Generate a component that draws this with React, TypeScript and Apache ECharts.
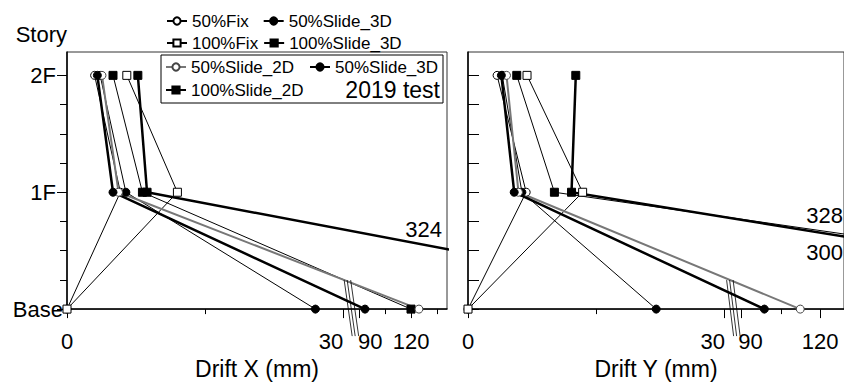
import React, { useEffect, useRef } from 'react';
import * as echarts from 'echarts';

// ---------- data ----------
const stories = ['Base', '1F', '2F'];
const storyLevels = [0, 4, 8];
const storyTicks = [0, 1, 2, 3, 4, 5, 6, 7, 8];

const xTickLabels = [0, 30, 90, 120];
const xMinorTicks = [15, 105, 135];

// Drift X (mm) at [Base, 1F, 2F]
const x50Fix = [0, 5.8, 3.0];
const x50Slide3D = [27, 6.4, 3.6];
const x100Fix = [0, 12.0, 6.5];
const x100Slide3D = [120, 8.2, 5.0];
const x50Slide2D_2019 = [124.6, 5.6, 3.8];
const x50Slide3D_2019 = [93.3, 5.0, 3.3];
const x100Slide2D_2019 = [324, 8.7, 7.7];

// Drift Y (mm) at [Base, 1F, 2F]
const y50Fix = [0, 6.8, 3.4];
const y50Slide3D = [22, 6.3, 4.0];
const y100Fix = [0, 13.4, 6.9];
const y100Slide3D = [328, 10.1, 5.7];
const y50Slide2D_2019 = [112.4, 5.9, 4.5];
const y50Slide3D_2019 = [98.7, 5.4, 3.9];
const y100Slide2D_2019 = [300, 12.1, 12.6];

const offScaleX = [324];
const offScaleY = [328, 300];

// ---------- broken axis scale ----------
const X_BRK = { gap: 1.77, scale: 0.1873, max: 41.3 };
const Y_BRK = { gap: 1.98, scale: 0.306, max: 43.95 };
const fwd = (b: any, v: number) => (v <= 30 ? v : 30 + b.gap + (v - 90) * b.scale);
const inv = (b: any, d: number) => (d <= 30.0001 ? d : 90 + (d - 30 - b.gap) / b.scale);

const FONT = 'Liberation Sans, Arial, sans-serif';

const styles: any = {
  fix50: { symbol: 'circle', fill: '#fff', border: '#000', line: '#000', width: 1 },
  s3d50: { symbol: 'circle', fill: '#000', border: '#000', line: '#000', width: 1 },
  fix100: { symbol: 'rect', fill: '#fff', border: '#000', line: '#000', width: 1 },
  s3d100: { symbol: 'rect', fill: '#000', border: '#000', line: '#000', width: 1 },
  s2d50n: { symbol: 'circle', fill: '#fff', border: '#444', line: '#777', width: 2 },
  s3d50n: { symbol: 'circle', fill: '#000', border: '#000', line: '#000', width: 2.5 },
  s2d100n: { symbol: 'rect', fill: '#000', border: '#000', line: '#000', width: 2.5 },
};

const defs = [
  { name: '50%Fix', x: x50Fix, y: y50Fix, st: 'fix50' },
  { name: '50%Slide_3D', x: x50Slide3D, y: y50Slide3D, st: 's3d50' },
  { name: '100%Fix', x: x100Fix, y: y100Fix, st: 'fix100' },
  { name: '100%Slide_3D', x: x100Slide3D, y: y100Slide3D, st: 's3d100' },
  { name: '50%Slide_2D', x: x50Slide2D_2019, y: y50Slide2D_2019, st: 's2d50n' },
  { name: '50%Slide_3D (2019)', x: x50Slide3D_2019, y: y50Slide3D_2019, st: 's3d50n' },
  { name: '100%Slide_2D', x: x100Slide2D_2019, y: y100Slide2D_2019, st: 's2d100n' },
];

function makeSeries(vals: number[], b: any, xi: number, yi: number, d: any) {
  const s = styles[d.st];
  return {
    type: 'line',
    name: d.name,
    xAxisIndex: xi,
    yAxisIndex: yi,
    data: vals.map((v, i) => [fwd(b, v), storyLevels[i]]),
    symbol: s.symbol,
    symbolSize: 8,
    showSymbol: true,
    clip: true,
    lineStyle: { color: s.line, width: s.width },
    itemStyle: { color: s.fill, borderColor: s.border, borderWidth: 1 },
    emphasis: { disabled: true },
    z: 3,
  };
}

function xAxesFor(grid: number, b: any) {
  const lab = (val: number) => {
    const v = Math.round(inv(b, val));
    if (v === 30) return '{l|30}';
    if (v === 90) return '{r|90}';
    return '{n|' + v + '}';
  };
  const rs = { fontSize: 22, fontFamily: FONT, color: '#000' };
  const rightShift = grid === 0 ? 22 : 18;
  return [
    {
      type: 'value', gridIndex: grid, min: 0, max: b.max, position: 'bottom',
      name: grid === 0 ? 'Drift X (mm)' : 'Drift Y (mm)',
      nameLocation: 'middle', nameGap: 57,
      nameTextStyle: { fontSize: 23, fontFamily: FONT, color: '#000', verticalAlign: 'middle' },
      axisLine: { show: true, lineStyle: { color: '#000', width: 1.5 } },
      axisTick: { show: true, length: 9, customValues: xTickLabels.map((v) => fwd(b, v)), lineStyle: { color: '#000', width: 1 } },
      axisLabel: {
        show: true, customValues: xTickLabels.map((v) => fwd(b, v)), formatter: lab,
        margin: 32, verticalAlign: 'middle',
        rich: { n: rs, l: { ...rs, padding: [0, 24, 0, 0] }, r: { ...rs, padding: [0, 0, 0, rightShift] } },
      },
      splitLine: { show: false },
    },
    {
      type: 'value', gridIndex: grid, min: 0, max: b.max, position: 'bottom',
      axisLine: { show: false },
      axisTick: { show: true, length: 5, customValues: xMinorTicks.map((v) => fwd(b, v)), lineStyle: { color: '#000', width: 1 } },
      axisLabel: { show: false },
      splitLine: { show: false },
    },
  ];
}

export default function App() {
  const ref = useRef<HTMLDivElement>(null);
  useEffect(() => {
    if (!ref.current) return;
    const chart = echarts.init(ref.current, null, { renderer: 'svg' });
    const legendBase = {
      padding: 0, itemWidth: 20, itemHeight: 9, selectedMode: false, orient: 'horizontal',
      textStyle: { fontSize: 17, fontFamily: FONT, color: '#000', lineHeight: 18 },
      formatter: (n: string) => n.replace(' (2019)', ''),
      z: 6,
    };
    const series: any[] = [];
    defs.forEach((d) => series.push(makeSeries(d.x, X_BRK, 0, 0, d)));
    defs.forEach((d) => series.push(makeSeries(d.y, Y_BRK, 2, 2, d)));

    const option: any = {
      animation: false,
      textStyle: { fontFamily: FONT },
      grid: [
        { left: 67, right: 397, top: 52, bottom: 72, show: true, borderColor: '#333', borderWidth: 1, backgroundColor: 'transparent' },
        { left: 468, right: -2, top: 52, bottom: 72, show: true, borderColor: '#333', borderWidth: 1, backgroundColor: 'transparent' },
      ],
      xAxis: [...xAxesFor(0, X_BRK), ...xAxesFor(1, Y_BRK)],
      yAxis: [
        {
          type: 'value', gridIndex: 0, min: 0, max: 8.8, position: 'left',
          name: 'Story', nameLocation: 'end', nameGap: 7,
          nameTextStyle: { fontSize: 22, fontFamily: FONT, color: '#000', align: 'right', verticalAlign: 'bottom' },
          axisLine: { show: true, lineStyle: { color: '#000', width: 1.5 } },
          axisTick: { show: true, length: 10, customValues: storyLevels, lineStyle: { color: '#000', width: 1 } },
          axisLabel: {
            show: true, customValues: storyLevels, margin: 4,
            formatter: (v: number) => {
              const s = stories[storyLevels.indexOf(Math.round(v))] || '';
              return s === 'Base' ? '{b|' + s + '}' : '{p|' + s + '}';
            },
            rich: {
              b: { fontSize: 22, fontFamily: FONT, color: '#000' },
              p: { fontSize: 22, fontFamily: FONT, color: '#000', padding: [0, 7, 0, 0] },
            },
          },
          splitLine: { show: false },
        },
        {
          type: 'value', gridIndex: 0, min: 0, max: 8.8, position: 'left',
          axisLine: { show: false },
          axisTick: { show: true, length: 7, customValues: storyTicks.filter((t) => storyLevels.indexOf(t) < 0), lineStyle: { color: '#000', width: 1 } },
          axisLabel: { show: false },
          splitLine: { show: false },
        },
        {
          type: 'value', gridIndex: 1, min: 0, max: 8.8, position: 'left',
          axisLine: { show: true, lineStyle: { color: '#000', width: 1.5 } },
          axisTick: { show: true, inside: true, length: 11, customValues: storyTicks, lineStyle: { color: '#000', width: 1 } },
          axisLabel: { show: false },
          splitLine: { show: false },
        },
      ],
      legend: [
        { ...legendBase, data: ['50%Fix', '50%Slide_3D'], left: 166, top: 12, itemGap: 14 },
        { ...legendBase, data: ['100%Fix', '100%Slide_3D'], left: 166, top: 34, itemGap: 5 },
        { ...legendBase, data: ['50%Slide_2D', '50%Slide_3D (2019)'], left: 165, top: 58, itemGap: 15 },
        { ...legendBase, data: ['100%Slide_2D'], left: 165, top: 81, itemGap: 15 },
      ],
      series,
    };
    chart.setOption(option);

    // decorations: legend box, test label, off-scale values, axis break marks
    const axisY = chart.convertToPixel({ xAxisIndex: 0, yAxisIndex: 0 }, [0, 0])[1];
    const rightEdgeL = chart.convertToPixel({ xAxisIndex: 0, yAxisIndex: 0 }, [X_BRK.max, 0])[0];
    const pxAt = (xi: number, yi: number, d: number, lv: number) =>
      chart.convertToPixel({ xAxisIndex: xi, yAxisIndex: yi }, [d, lv]);
    const brkL = pxAt(0, 0, 30 + X_BRK.gap / 2, 0)[0];
    const brkR = pxAt(2, 2, 30 + Y_BRK.gap / 2, 0)[0];
    const breakMarks = (cx: number, slant: number) =>
      [-3, 0, 3.5].map((o) => ({
        type: 'line', z: 10,
        shape: { x1: cx + o - slant, y1: axisY - 29, x2: cx + o + slant, y2: axisY + 27 },
        style: { stroke: '#000', lineWidth: 0.8 },
      }));
    const txt = (text: string, x: number, y: number, size: number) => ({
      type: 'text', z: 10, x, y,
      style: { text, fontSize: size, fontFamily: FONT, fill: '#000', align: 'right', verticalAlign: 'middle' },
    });
    chart.setOption({
      graphic: [
        { type: 'rect', z: 2, shape: { x: 161, y: 55, width: 282, height: 48 }, style: { fill: '#fff', stroke: '#000', lineWidth: 1 } },
        txt('2019 test', 440, 89.5, 23),
        txt(String(offScaleX[0]), rightEdgeL - 5, 229, 22),
        txt(String(offScaleY[0]), 843, 215, 22),
        txt(String(offScaleY[1]), 843, 252, 22),
        ...breakMarks(brkL, 4),
        ...breakMarks(brkR, 3.5),
      ],
    });
    return () => chart.dispose();
  }, []);
  return <div ref={ref} style={{ position: 'fixed', left: 0, top: 0, width: 844, height: 385, background: '#fff' }} />;
}
